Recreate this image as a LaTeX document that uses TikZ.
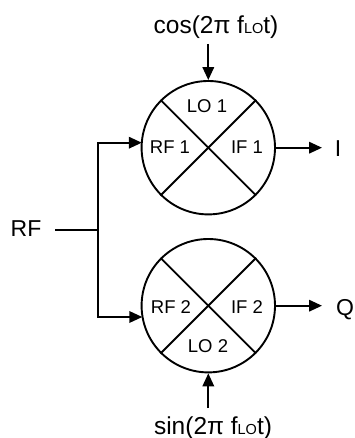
\documentclass[tikz,border=0pt]{standalone}
\usepackage{fontspec}
\setmainfont{Liberation Sans}
\usetikzlibrary{arrows.meta}
\tikzset{
  x=1pt,y=-1pt,
  mixer/.style={circle,draw=black,line width=1.9pt,minimum size=133.4pt,inner sep=0pt},
  wire/.style={line width=1.9pt,draw=black},
  arrowwire/.style={wire,-{Triangle[length=13pt,width=11.5pt]}},
  portlabel/.style={inner sep=0pt,font=\fontsize{18.5}{18.5}\selectfont},
  siglabel/.style={inner sep=0pt,font=\fontsize{23}{23}\selectfont},
  formula/.style={inner sep=0pt,font=\fontsize{24.5}{24.5}\selectfont},
}
\begin{document}
\begin{tikzpicture}
\useasboundingbox (0,0) rectangle (355,438);
\fill[white] (0,0) rectangle (355,438);
\node[mixer] (m1) at (208.3,147.7) {};
\node[mixer] (m2) at (208.3,305.7) {};
\draw[wire] (m1.north west) -- (m1.south east);
\draw[wire] (m1.north east) -- (m1.south west);
\draw[wire] (m2.north west) -- (m2.south east);
\draw[wire] (m2.north east) -- (m2.south west);
\node[portlabel,anchor=base] (lo1) at (207,113) {LO 1};
\node[portlabel,anchor=base] (rf1) at (170,154) {RF 1};
\node[portlabel,anchor=base] (if1) at (247,154) {IF 1};
\node[portlabel,anchor=base] (rf2) at (171,313.5) {RF 2};
\node[portlabel,anchor=base] (if2) at (247,313.5) {IF 2};
\node[portlabel,anchor=base] (lo2) at (208,352) {LO 2};
\node[formula,anchor=base] (cos) at (216,34) {cos(2π f{\fontsize{14.5}{14.5}\selectfont LO}t)};
\node[formula,anchor=base] (sin) at (213,434) {sin(2π f{\fontsize{14.5}{14.5}\selectfont LO}t)};
\node[siglabel,anchor=base] (rf) at (26,236) {RF};
\node[siglabel,anchor=base] (i) at (338,157) {I};
\node[siglabel,anchor=base] (q) at (345,315) {Q};
\coordinate (cosend) at (208.3,44);
\coordinate (sinend) at (208.3,408);
\coordinate (rfstart) at (55,230);
\coordinate (junction) at (98,230);
\coordinate (up) at (98,142.7);
\coordinate (down) at (98,317);
\coordinate (in1) at (141.8,142.7);
\coordinate (in2) at (142.3,317);
\coordinate (iend) at (322,147.7);
\coordinate (qend) at (322,305.7);
\draw[arrowwire] (cosend) -- (m1.north);
\draw[arrowwire] (sinend) -- (m2.south);
\draw[wire] (rfstart) -- (junction);
\draw[arrowwire,line join=miter] (junction) -- (up) -- (in1);
\draw[arrowwire,line join=miter] (junction) -- (down) -- (in2);
\draw[arrowwire] (m1.east) -- (iend);
\draw[arrowwire] (m2.east) -- (qend);
\end{tikzpicture}
\end{document}
